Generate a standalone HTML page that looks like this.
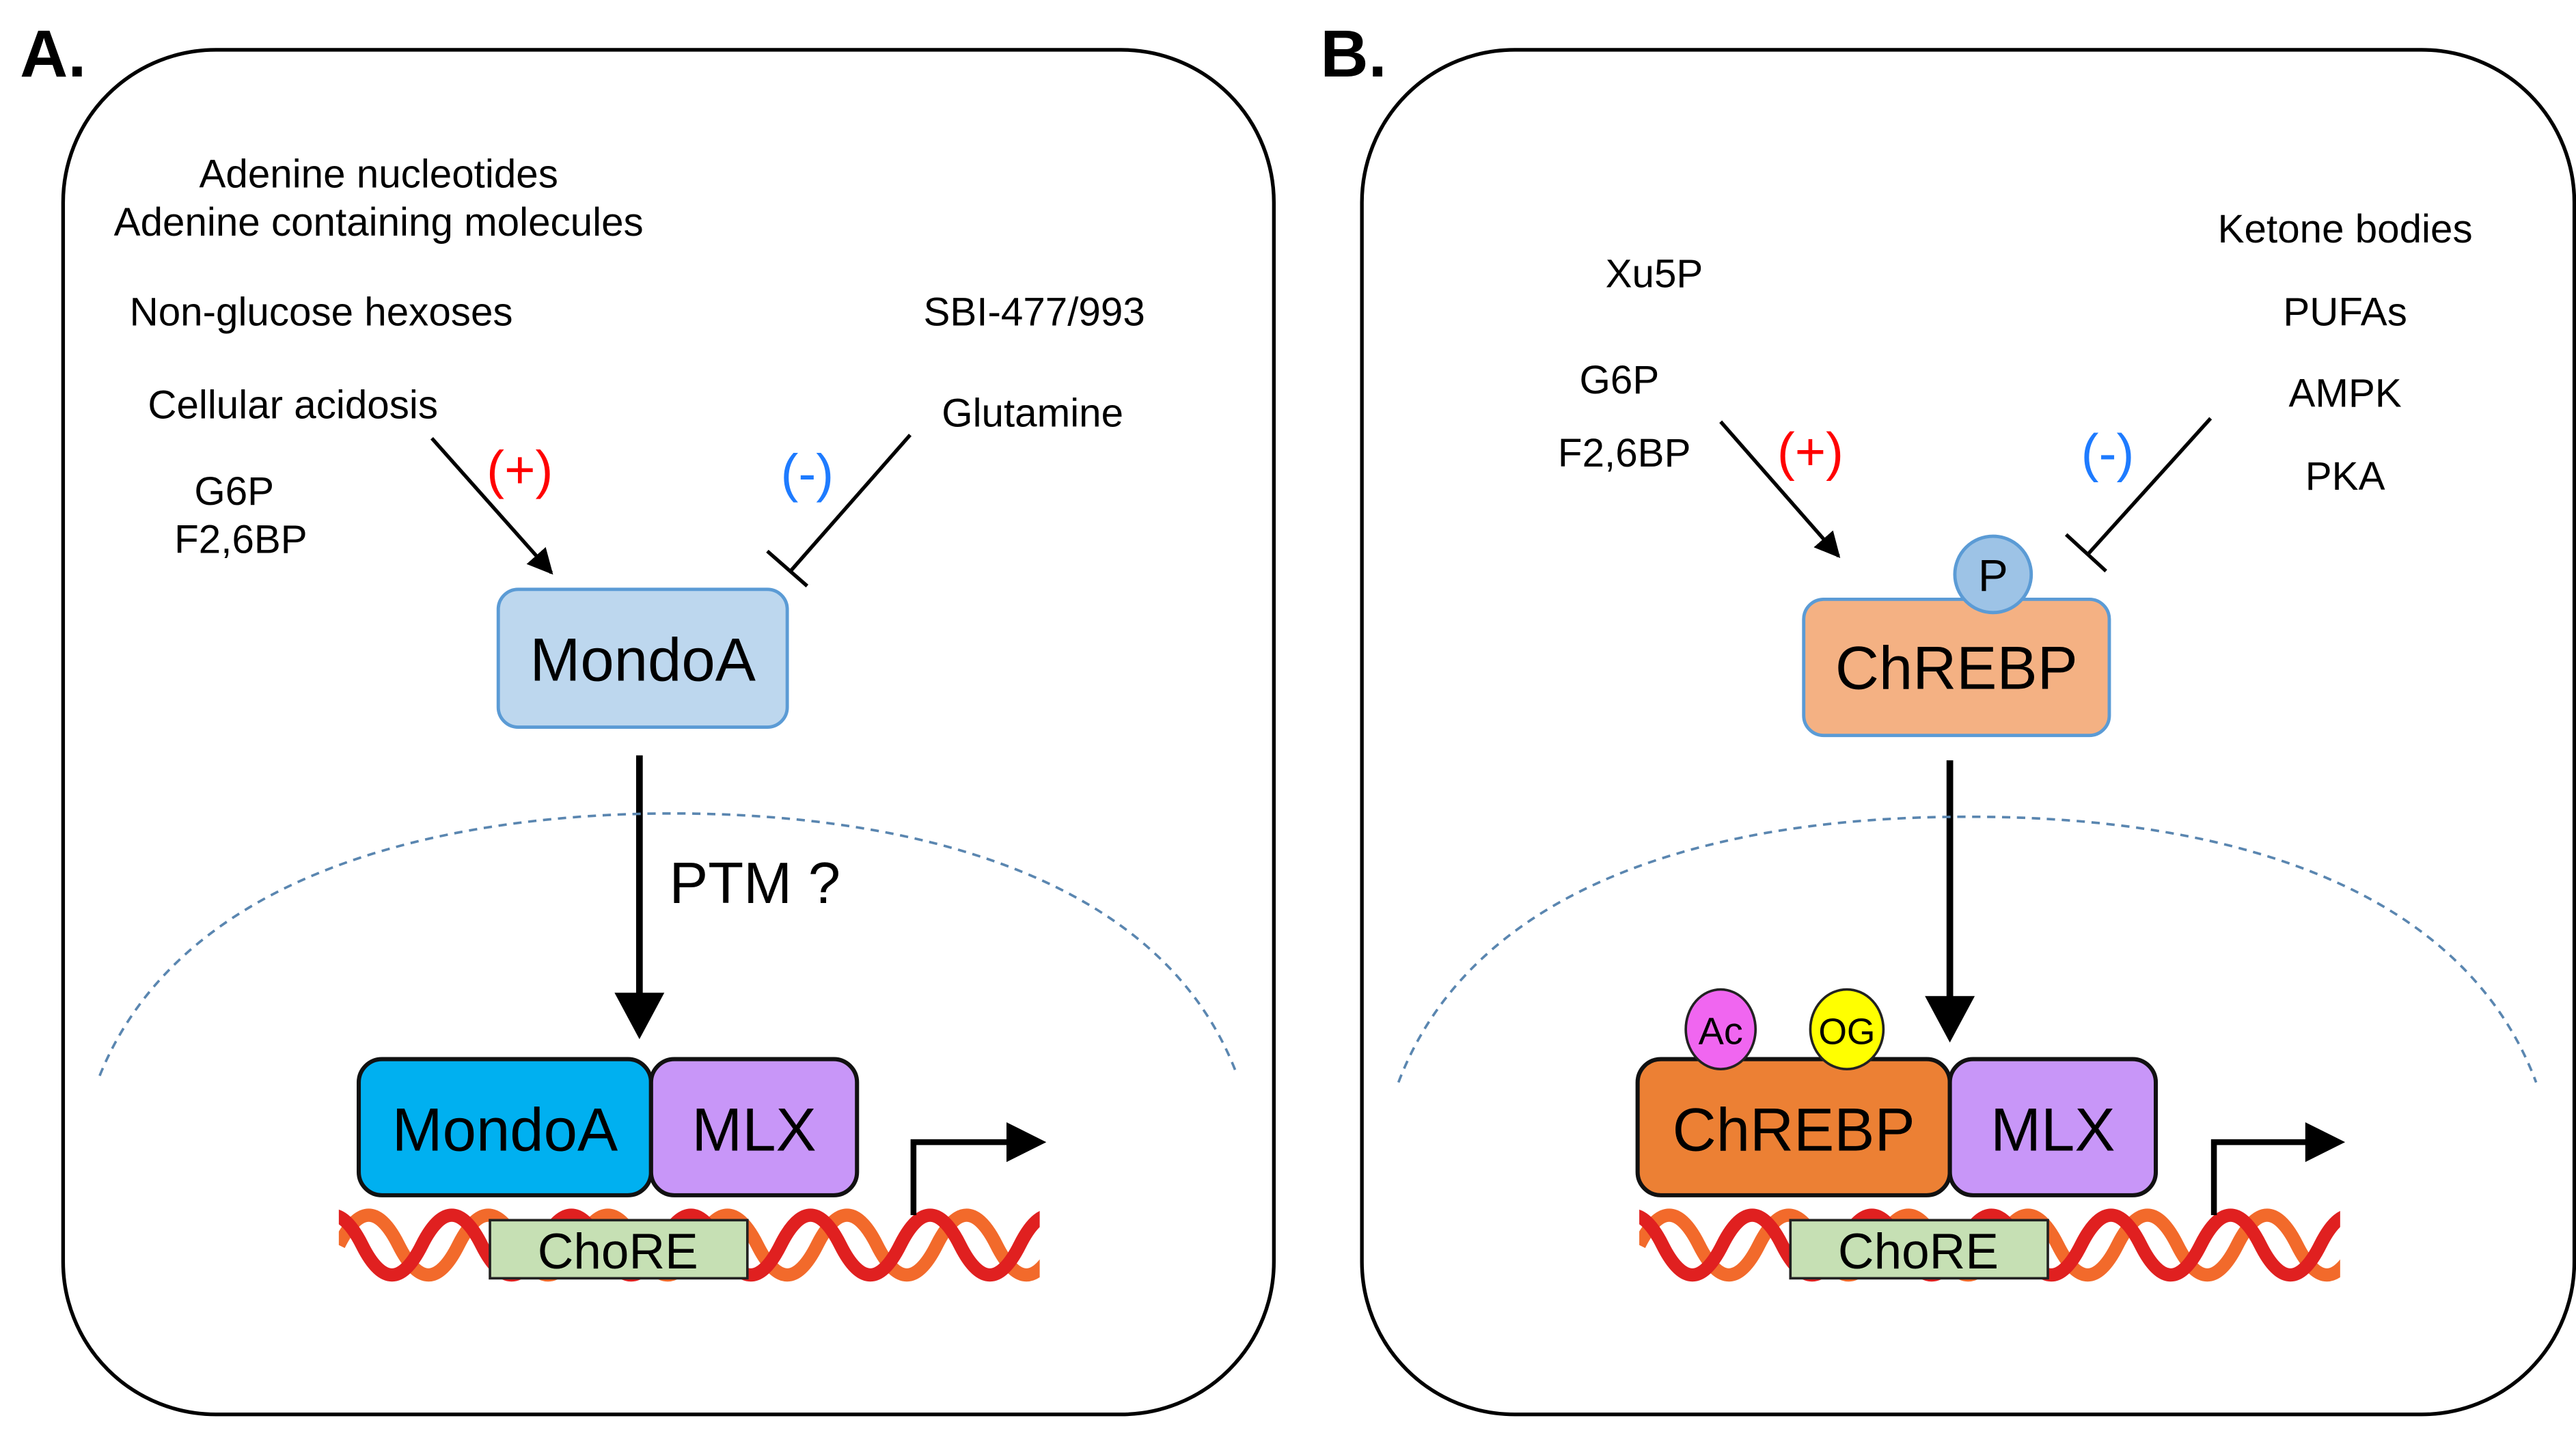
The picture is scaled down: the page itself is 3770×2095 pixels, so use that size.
<!DOCTYPE html>
<html><head><meta charset="utf-8"><style>
html,body{margin:0;padding:0;background:#fff}
svg{display:block}
text{font-family:"Liberation Sans",Arial,sans-serif}
</style></head><body>
<svg width="3770" height="2095" viewBox="0 0 1551 862" preserveAspectRatio="none" xmlns="http://www.w3.org/2000/svg">
<defs>
<marker id="ah" viewBox="0 0 10 10" refX="9" refY="5" markerWidth="7" markerHeight="7" orient="auto" markerUnits="strokeWidth"><path d="M0,0 L10,5 L0,10 z" fill="#000"/></marker>
<clipPath id="ca"><rect x="204" y="715" width="422" height="70"/></clipPath>
<clipPath id="cb"><rect x="987" y="715" width="422" height="70"/></clipPath>
<g id="dna">
<path d="M0,750 Q18,714 36,750 T72,750 T108,750 T144,750 T180,750 T216,750 T252,750 T288,750 T324,750 T360,750 T396,750 T432,750 T468,750" fill="none" stroke="#f26a2b" stroke-width="8"/>
<path d="M-22,750 Q-4,714 14,750 T50,750 T86,750 T122,750 T158,750 T194,750 T230,750 T266,750 T302,750 T338,750 T374,750 T410,750 T446,750 T482,750" fill="none" stroke="#e02020" stroke-width="8"/>
</g>
</defs>
<rect width="1551" height="862" fill="#fff"/>
<rect x="38" y="30" width="729" height="822" rx="92" fill="#fff" stroke="#000" stroke-width="2.2"/>
<rect x="820" y="30" width="730" height="822" rx="92" fill="#fff" stroke="#000" stroke-width="2.2"/>
<text x="12" y="46" font-size="40" font-weight="bold">A.</text>
<text x="795" y="46" font-size="40" font-weight="bold">B.</text>

<g font-size="24" fill="#000">
<text x="228" y="113" text-anchor="middle">Adenine nucleotides</text>
<text x="228" y="142" text-anchor="middle">Adenine containing molecules</text>
<text x="78" y="196">Non-glucose hexoses</text>
<text x="556" y="196">SBI-477/993</text>
<text x="89" y="252">Cellular acidosis</text>
<text x="567" y="257">Glutamine</text>
<text x="141" y="304" text-anchor="middle">G6P</text>
<text x="145" y="333" text-anchor="middle">F2,6BP</text>
</g>
<text x="313" y="294" font-size="32" fill="#ff0000" text-anchor="middle">(+)</text>
<text x="486" y="296" font-size="32" fill="#1e7bff" text-anchor="middle">(-)</text>
<line x1="260" y1="264" x2="332" y2="345" stroke="#000" stroke-width="2.2" marker-end="url(#ah)"/>
<line x1="548" y1="262" x2="476" y2="344" stroke="#000" stroke-width="2.2"/>
<line x1="462" y1="332" x2="486" y2="353" stroke="#000" stroke-width="2.2"/>
<rect x="300" y="355" width="174" height="83" rx="12" fill="#bdd7ee" stroke="#5b9bd5" stroke-width="2"/>
<text x="387" y="410" font-size="36.5" text-anchor="middle">MondoA</text>
<line x1="385" y1="455" x2="385" y2="600" stroke="#000" stroke-width="4"/>
<path d="M370,598 L400,598 L385,626 z" fill="#000"/>
<text x="403" y="544" font-size="35">PTM ?</text>
<path d="M60,648 C120,500 330,490 405,490 C480,490 690,500 745,648" fill="none" stroke="#5a86b0" stroke-width="1.5" stroke-dasharray="5,4"/>
<g clip-path="url(#ca)"><use href="#dna" x="204"/></g>
<rect x="216" y="638" width="176" height="82" rx="14" fill="#00b0f0" stroke="#111" stroke-width="2.5"/>
<rect x="392" y="638" width="124" height="82" rx="14" fill="#c896f8" stroke="#111" stroke-width="2.5"/>
<text x="304" y="693" font-size="36.5" text-anchor="middle">MondoA</text>
<text x="454" y="693" font-size="36.5" text-anchor="middle">MLX</text>
<rect x="295" y="735" width="155" height="35" fill="#c6e0b4" stroke="#222" stroke-width="1.5"/>
<text x="372" y="764" font-size="30" text-anchor="middle">ChoRE</text>
<path d="M550,732 L550,688 L608,688" fill="none" stroke="#000" stroke-width="3.5"/>
<path d="M606,676 L630,688 L606,700 z" fill="#000"/>

<g font-size="24" fill="#000">
<text x="996" y="173" text-anchor="middle">Xu5P</text>
<text x="975" y="237" text-anchor="middle">G6P</text>
<text x="978" y="281" text-anchor="middle">F2,6BP</text>
<text x="1412" y="146" text-anchor="middle">Ketone bodies</text>
<text x="1412" y="196" text-anchor="middle">PUFAs</text>
<text x="1412" y="245" text-anchor="middle">AMPK</text>
<text x="1412" y="295" text-anchor="middle">PKA</text>
</g>
<text x="1090" y="283" font-size="32" fill="#ff0000" text-anchor="middle">(+)</text>
<text x="1269" y="284" font-size="32" fill="#1e7bff" text-anchor="middle">(-)</text>
<line x1="1036" y1="254" x2="1107" y2="335" stroke="#000" stroke-width="2.2" marker-end="url(#ah)"/>
<line x1="1331" y1="252" x2="1257" y2="334" stroke="#000" stroke-width="2.2"/>
<line x1="1244" y1="322" x2="1268" y2="344" stroke="#000" stroke-width="2.2"/>
<rect x="1086" y="361" width="184" height="82" rx="12" fill="#f4b183" stroke="#5b9bd5" stroke-width="2"/>
<text x="1178" y="415" font-size="36.5" text-anchor="middle">ChREBP</text>
<circle cx="1200" cy="346" r="23" fill="#9dc3e6" stroke="#5b9bd5" stroke-width="2"/>
<text x="1200" y="356" font-size="27" text-anchor="middle">P</text>
<line x1="1174" y1="458" x2="1174" y2="602" stroke="#000" stroke-width="4"/>
<path d="M1159,600 L1189,600 L1174,628 z" fill="#000"/>
<path d="M842,652 C900,500 1110,492 1185,492 C1260,492 1470,500 1527,652" fill="none" stroke="#5a86b0" stroke-width="1.5" stroke-dasharray="5,4"/>
<g clip-path="url(#cb)"><use href="#dna" x="987"/></g>
<rect x="986" y="638" width="188" height="82" rx="14" fill="#ec8034" stroke="#111" stroke-width="2.5"/>
<rect x="1174" y="638" width="124" height="82" rx="14" fill="#c896f8" stroke="#111" stroke-width="2.5"/>
<text x="1080" y="693" font-size="36.5" text-anchor="middle">ChREBP</text>
<text x="1236" y="693" font-size="36.5" text-anchor="middle">MLX</text>
<ellipse cx="1036" cy="620" rx="21" ry="24" fill="#f066f0" stroke="#222" stroke-width="1.5"/>
<text x="1036" y="629" font-size="23" text-anchor="middle">Ac</text>
<ellipse cx="1112" cy="620" rx="22" ry="24" fill="#ffff00" stroke="#222" stroke-width="1.5"/>
<text x="1112" y="629" font-size="22" text-anchor="middle">OG</text>
<rect x="1078" y="735" width="155" height="35" fill="#c6e0b4" stroke="#222" stroke-width="1.5"/>
<text x="1155" y="764" font-size="30" text-anchor="middle">ChoRE</text>
<path d="M1333,732 L1333,688 L1390,688" fill="none" stroke="#000" stroke-width="3.5"/>
<path d="M1388,676 L1412,688 L1388,700 z" fill="#000"/>
</svg>
</body></html>
